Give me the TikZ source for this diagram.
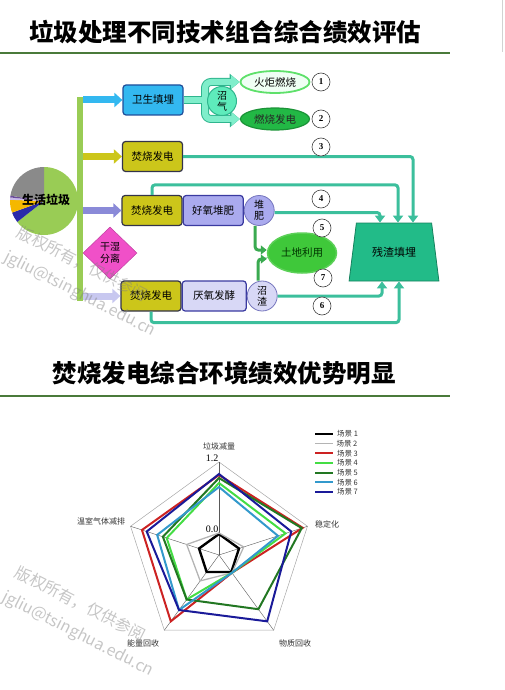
\documentclass[tikz,border=0pt]{standalone}
\usepackage{fontspec}
\newfontfamily\cjk{Noto Sans CJK SC}
\newfontfamily\tms{Liberation Serif}
\usepackage{tikz}
\usetikzlibrary{arrows.meta,shapes.geometric,positioning}

\definecolor{titlegreen}{HTML}{4A7A3A}
\definecolor{bargreen}{HTML}{99CC55}
\definecolor{fillblue}{HTML}{33B8F0}
\definecolor{boxblue}{HTML}{1F4E9A}
\definecolor{olivebox}{HTML}{CCC61A}
\definecolor{boxdark}{HTML}{33334A}
\definecolor{lav}{HTML}{AAAAEE}
\definecolor{lavlight}{HTML}{D8D8F6}
\definecolor{boxpurple}{HTML}{3A3AA0}
\definecolor{feedpurple}{HTML}{8A8AD8}
\definecolor{feedlav}{HTML}{C8C8F0}
\definecolor{pinkd}{HTML}{F050C8}
\definecolor{mint}{HTML}{80EECB}
\definecolor{gasedge}{HTML}{2FB58E}
\definecolor{gascirc}{HTML}{5EEBBB}
\definecolor{torchfill}{HTML}{EFFFF4}
\definecolor{torchedge}{HTML}{5EE06A}
\definecolor{powerfill}{HTML}{22B845}
\definecolor{slagteal}{HTML}{3CBF9C}
\definecolor{landgreen}{HTML}{3FC83A}
\definecolor{compgreen}{HTML}{3AAA50}
\definecolor{trapfill}{HTML}{22BB88}
\definecolor{trapedge}{HTML}{16825E}
\definecolor{pieblue}{HTML}{2A2AAA}
\definecolor{pieorange}{HTML}{F5B800}
\definecolor{pielav}{HTML}{C8B8E8}
\definecolor{piepurple}{HTML}{6A4A9A}
\definecolor{piegray}{HTML}{8A8A8A}
\definecolor{sc1}{HTML}{000000}
\definecolor{sc2}{HTML}{B4B4B4}
\definecolor{sc3}{HTML}{CC2222}
\definecolor{sc4}{HTML}{44DD44}
\definecolor{sc5}{HTML}{227722}
\definecolor{sc6}{HTML}{3399CC}
\definecolor{sc7}{HTML}{1A1A99}

\tikzset{
  titletext/.style={font=\cjk\bfseries\fontsize{24.5}{28}\selectfont, inner sep=0pt},
  titlerule/.style={draw=titlegreen, line width=1.8pt},
  procbox/.style={rectangle, rounded corners=3pt, line width=1.2pt, minimum width=60pt,
    minimum height=30pt, inner sep=1pt, font=\cjk\fontsize{10.5}{12}\selectfont},
  sidecirc/.style={circle, draw=boxpurple!70, line width=0.8pt, minimum size=30pt,
    inner sep=0pt, align=center, font=\cjk\fontsize{10}{11}\selectfont},
  numcirc/.style={circle, draw=black!75, fill=white, line width=0.6pt, minimum size=18pt,
    inner sep=0pt, font=\tms\bfseries\fontsize{9}{9}\selectfont},
  feed/.style={line width=7pt, -{Triangle[length=8pt,width=14pt]}},
  gasback/.style={draw=gasedge, line width=8pt, rounded corners=6pt, >={Triangle[length=10pt,width=16pt]}},
  gasfront/.style={draw=mint, line width=6pt, rounded corners=6pt, >={Triangle[length=8.5pt,width=13pt]}},
  slagline/.style={draw=slagteal, line width=3pt, rounded corners=3pt, -{Triangle[length=7pt,width=10pt]}},
  greenline/.style={draw=compgreen, line width=3pt, rounded corners=3pt, -{Triangle[length=6pt,width=9pt]}},
  wmark/.style={text=gray, opacity=0.45, rotate=-27, anchor=north west, align=left,
    font=\cjk\fontsize{16}{27}\selectfont, inner sep=0pt},
  axlabel/.style={font=\cjk\fontsize{8}{9}\selectfont, text=black!80, inner sep=1pt},
  legtext/.style={font=\cjk\fontsize{7.5}{9}\selectfont, text=black!80, anchor=west, inner sep=1pt},
}

\begin{document}
\begin{tikzpicture}[x=1pt,y=-1pt,font=\cjk]
  \useasboundingbox (0,0) rectangle (504,690);

  % ================= titles =================
  \node[titletext] (title1) at (225,32) {垃圾处理不同技术组合综合绩效评估};
  \draw[titlerule] (0,53) -- (450,53);
  \draw[gray!35, line width=0.8pt] (502.5,0) -- (502.5,52);
  \node[titletext] (title2) at (224,373) {焚烧发电综合环境绩效优势明显};
  \draw[titlerule] (0,396) -- (450,396);

  % ================= pie + trunk =================
  \coordinate (pie) at (44,201);
  \foreach \a/\b/\c in {-90/142/bargreen, 142/160/pieblue, 160/182/pieorange,
                        182/186/pielav, 186/189/piepurple, 189/270/piegray}
    \fill[\c] (pie) -- ([shift={(\a:34)}]pie) arc[start angle=\a, end angle=\b, radius=34] -- cycle;
  \node[font=\cjk\bfseries\fontsize{12}{12}\selectfont, inner sep=0pt] (msw) at (46,200) {生活垃圾};

  \node[fill=bargreen, minimum width=6pt, minimum height=203pt, inner sep=0pt] (trunk) at (80,199) {};

  % ================= process boxes =================
  \node[procbox, fill=fillblue, draw=boxblue] (landfill) at (153,100) {卫生填埋};
  \node[procbox, fill=olivebox, draw=boxdark] (inc2) at (152.5,156.5) {焚烧发电};
  \node[procbox, fill=olivebox, draw=boxdark] (inc3) at (152,210.5) {焚烧发电};
  \node[procbox, fill=lav, draw=boxpurple, right=0pt of inc3] (aerobic) {好氧堆肥};
  \node[procbox, fill=olivebox, draw=boxdark] (inc4) at (151,296) {焚烧发电};
  \node[procbox, fill=lavlight, draw=boxpurple, minimum width=64pt, right=0pt of inc4] (anaerobic) {厌氧发酵};
  \node[sidecirc, fill=lav, right=0pt of aerobic] (compost) {堆\\肥};
  \node[sidecirc, fill=lavlight, right=0pt of anaerobic] (digest) {沼\\渣};

  \node[diamond, aspect=1, minimum width=54pt, minimum height=52pt, inner sep=0pt, fill=pinkd,
    draw=pinkd!80!black, line width=0.5pt, align=center, font=\cjk\fontsize{10}{12}\selectfont]
    (sep) at (110,253) {干湿\\分离};

  % ================= biogas branch =================
  \node[ellipse, minimum width=69pt, minimum height=22pt, inner sep=0pt, fill=torchfill,
    draw=torchedge, line width=1.8pt, font=\cjk\fontsize{10.5}{12}\selectfont] (torch) at (275,82) {火炬燃烧};
  \node[ellipse, minimum width=69pt, minimum height=22pt, inner sep=0pt, fill=powerfill,
    draw=powerfill!80!black, line width=1.2pt, text=black!85, font=\cjk\fontsize{10.5}{12}\selectfont]
    (gaspower) at (275,119) {燃烧发电};
  \coordinate (gj) at (205,100);
  \foreach \pass in {gasback,gasfront} {
    \draw[\pass] (landfill.east) -- (gj);
    \draw[\pass,->] (gj) |- (torch.west);
    \draw[\pass,->] (gj) |- (gaspower.west);
  }
  \node[circle, fill=gascirc, draw=gasedge, line width=1pt, minimum size=29pt, inner sep=0pt,
    align=center, font=\cjk\fontsize{10}{11}\selectfont] (biogas) at (222,101) {沼\\气};

  % ================= residues =================
  \node[ellipse, minimum width=69pt, minimum height=40pt, inner sep=0pt, fill=landgreen,
    draw=landgreen!85!white, line width=1.5pt, text=black!80!green, font=\cjk\fontsize{10.5}{12}\selectfont]
    (landuse) at (302,253) {土地利用};
  \node[trapezium, trapezium stretches=true, trapezium angle=73.7, minimum width=90pt,
    minimum height=58pt, fill=trapfill, draw=trapedge, line width=0.8pt,
    font=\cjk\fontsize{11}{12}\selectfont] (residue) at (394,252) {残渣填埋};

  % ================= feed arrows =================
  \draw[feed, fillblue] (trunk.east |- landfill) -- (landfill.west);
  \draw[feed, olivebox] (trunk.east |- inc2) -- (inc2.west);
  \draw[feed, feedpurple] (trunk.east |- inc3) -- (inc3.west);
  \draw[feed, feedlav] (trunk.east |- inc4) -- (inc4.west);

  % ================= slag lines =================
  \draw[slagline] (inc2.east) -| ([xshift=19pt]residue.north);
  \draw[slagline] (inc3.north) -- ++(0,-10) -| ([xshift=4pt]residue.north);
  \draw[slagline] ([yshift=-2pt]compost.east) -| ([xshift=-14pt]residue.north);
  \draw[slagline] (digest.east) -| ([xshift=-12pt]residue.south);
  \draw[slagline] (inc4.south) -- ++(0,11) -| ([xshift=5pt]residue.south);
  \draw[greenline] ([xshift=-4pt]compost.south) |- ([yshift=3pt]landuse.west);
  \draw[greenline] ([xshift=-4pt]digest.north) |- ([yshift=-6pt]landuse.west);

  % ================= numbers =================
  \node[numcirc] (n1) at (321,82) {1};
  \node[numcirc] (n2) at (321,119) {2};
  \node[numcirc] (n3) at (321,147) {3};
  \node[numcirc] (n4) at (321,199) {4};
  \node[numcirc] (n5) at (322,228) {5};
  \node[numcirc] (n7) at (323,278) {7};
  \node[numcirc] (n6) at (322,306) {6};

  % ================= radar chart =================
  \begin{scope}[shift={(219,555)}]
    \coordinate (rc) at (0,0);
    \draw[gray!70, line width=0.5pt] (-90:93) -- (-18:93) -- (54:93) -- (126:93) -- (198:93) -- cycle;
    \foreach \a in {-90,-18,54,126,198}
      \draw[black!65, line width=0.4pt] (rc) -- (\a:93);
    \foreach \c/\w/\va/\vb/\vc/\vd/\ve in {sc1/2.4/21/21/21/21/21, sc2/1.3/22/26/22/32/34,
        sc3/2/80/88/22/82/81, sc4/2/72/70/22/55/55, sc5/2/77/87/67/55/59,
        sc6/2/68/62/22/68/65, sc7/2/81/76/82/68/76}
      \draw[draw=\c, line width=\w pt] (-90:\va) -- (-18:\vb) -- (54:\vc) -- (126:\vd) -- (198:\ve) -- cycle;
  \end{scope}
  \node[font=\tms\fontsize{10}{10}\selectfont, inner sep=0pt] (top12) at (212,458) {1.2};
  \node[font=\tms\fontsize{10}{10}\selectfont, inner sep=0pt] (top00) at (212,529) {0.0};
  \node[axlabel] (ax1) at (219,446) {垃圾减量};
  \node[axlabel] (ax2) at (327,524) {稳定化};
  \node[axlabel] (ax3) at (295,643) {物质回收};
  \node[axlabel] (ax4) at (143,643) {能量回收};
  \node[axlabel] (ax5) at (101,521) {温室气体减排};

  % legend
  \foreach \i/\c/\w in {1/sc1/2.2, 2/sc2/1, 3/sc3/2, 4/sc4/2, 5/sc5/2, 6/sc6/2, 7/sc7/2}
    \draw[draw=\c, line width=\w pt] (315,{424.3+9.65*\i}) -- (333,{424.3+9.65*\i})
      node[legtext] (leg\i) at (335,{424.3+9.65*\i}) {场景 \i};

  % ================= watermarks =================
  \node[wmark] (wmtop) at (22,224) {版权所有，仅供参阅\\jgliu@tsinghua.edu.cn};
  \node[wmark] (wmbot) at (20,564) {版权所有，仅供参阅\\jgliu@tsinghua.edu.cn};

\end{tikzpicture}
\end{document}
